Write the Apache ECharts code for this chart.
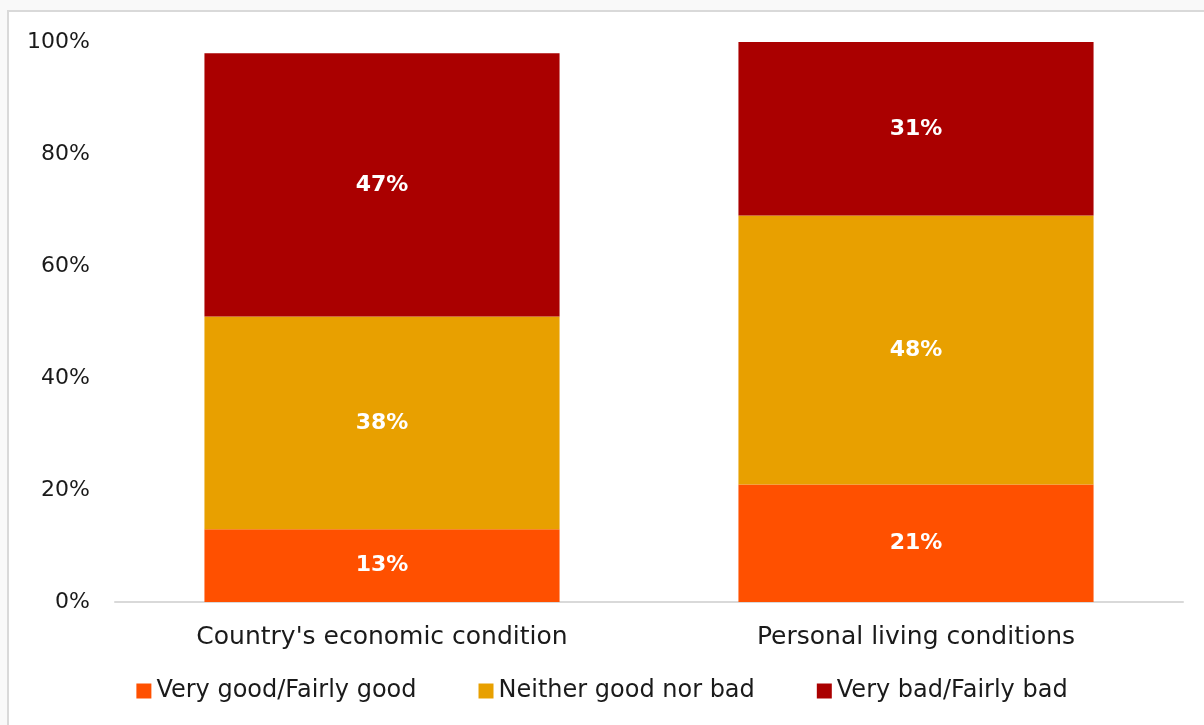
<!DOCTYPE html>
<html>
<head>
<meta charset="utf-8">
<script src="https://cdn.jsdelivr.net/npm/echarts@6/dist/echarts.min.js"></script>
<style>
  html, body { margin: 0; padding: 0; background: #f9f9f9; overflow: hidden; }
  #frame { position: absolute; left: 7px; top: 10px; width: 1300px; height: 800px; background: #fff; border: 2px solid #d9d9d9; }
  #chart { position: absolute; left: 0; top: 0; width: 1204px; height: 725px; }
</style>
</head>
<body>
<div id="frame"></div>
<div id="chart"></div>
<script>
const FONT = '"DejaVu Sans", sans-serif';

const CATEGORIES = ["Country's economic condition", 'Personal living conditions'];
const SERIES_NAMES = ['Very good/Fairly good', 'Neither good nor bad', 'Very bad/Fairly bad'];
const GOOD = [13, 21];
const NEITHER = [38, 48];
const BAD = [47, 31];
const COLORS = ['#ff5000', '#e8a000', '#aa0000'];

function stackSeries(name, data, color) {
    return {
        name, type: 'bar', stack: 'total', data, barWidth: '66.5%',
        itemStyle: { color },
        label: { show: true, position: 'inside', formatter: '{c}%', color: '#fff', fontWeight: 'bold', fontSize: 22, fontFamily: FONT },
    };
}

const c = echarts.init(document.getElementById('chart'), null, { renderer: 'canvas' });
c.setOption({
    animation: false,
    backgroundColor: 'transparent',
    grid: { top: 42, bottom: 123, left: 115, right: 21 },
    legend: {
        bottom: 17, left: 'center', itemGap: 62, itemWidth: 15, itemHeight: 15, icon: 'rect',
        textStyle: { fontSize: 24, color: '#1a1a1a', fontFamily: FONT },
    },
    xAxis: {
        type: 'category', data: CATEGORIES,
        axisTick: { show: false },
        axisLine: { lineStyle: { color: '#d9d9d9', width: 2 } },
        axisLabel: { fontSize: 25, color: '#1a1a1a', fontFamily: FONT, margin: 23 },
    },
    yAxis: {
        type: 'value', min: 0, max: 100, interval: 20,
        splitLine: { show: false },
        axisLabel: { formatter: '{value}%', fontSize: 22, color: '#1a1a1a', fontFamily: FONT, margin: 25 },
    },
    series: [
        stackSeries(SERIES_NAMES[0], GOOD, COLORS[0]),
        stackSeries(SERIES_NAMES[1], NEITHER, COLORS[1]),
        stackSeries(SERIES_NAMES[2], BAD, COLORS[2]),
    ],
});
</script>
</body>
</html>
